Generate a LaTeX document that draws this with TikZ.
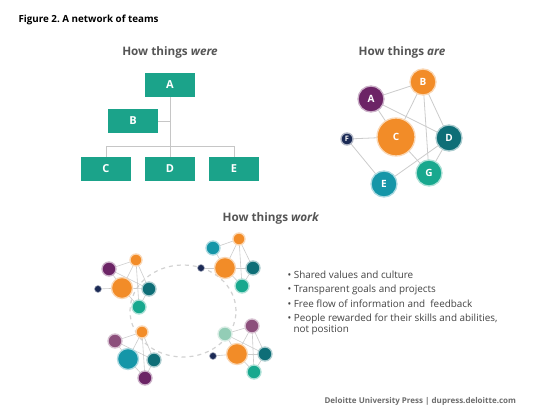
\documentclass[tikz,border=0pt]{standalone}
\usepackage{fontspec}
\setmainfont{Open Sans}
\usetikzlibrary{backgrounds,shapes.geometric}
\frenchspacing
\definecolor{boxteal}{HTML}{1BA38A}
\definecolor{corange}{HTML}{F28C28}
\definecolor{cpurple}{HTML}{6C2466}
\definecolor{cdteal}{HTML}{0E6E77}
\definecolor{cteal}{HTML}{1596A8}
\definecolor{cnavy}{HTML}{1B2A55}
\definecolor{cgreen}{HTML}{18A88E}
\definecolor{cmpurple}{HTML}{8C4F7C}
\definecolor{clgreen}{HTML}{93CDB6}
\definecolor{headgray}{HTML}{555555}
\definecolor{txtgray}{HTML}{444444}
\tikzset{
  orgbox/.style={rectangle, fill=boxteal, minimum width=50pt, minimum height=24pt, inner sep=0pt, text=white, font=\fontsize{11}{12}\selectfont\bfseries},
  orgline/.style={draw=gray!45, line width=0.8pt},
  bub/.style={circle, inner sep=0pt, fill=#1, draw=#1!35!white, line width=1.3pt, text=white, font=\fontsize{10}{10}\selectfont\bfseries},
  netline/.style={draw=gray!40, line width=0.8pt},
  thinline/.style={draw=gray!40, line width=0.6pt},
  heading/.style={text=headgray, font=\fontsize{11.7}{13}\selectfont\bfseries},
  bullet/.style={text=txtgray, anchor=west, font=\fontsize{9.9}{11}\selectfont}
}
\begin{document}
\begin{tikzpicture}[x=1pt,y=-1pt]
\begin{scope}[on background layer]
\fill[white] (0,0) rectangle (553,419);
\end{scope}
\useasboundingbox (0,0) rectangle (553,419);
% title
\node[anchor=west, text=black, font=\fontsize{9.8}{11}\selectfont\bfseries] (title) at (15,20) {Figure 2. A network of teams};
% ---- How things were
\node[heading] (hwere) at (170,52) {How things \textit{were}};
\node[orgbox] (A) at (170,85) {A};
\node[orgbox] (B) at (133,121) {B};
\node[orgbox] (C) at (106,169) {C};
\node[orgbox] (D) at (170,169) {D};
\node[orgbox] (E) at (234,169) {E};
\coordinate (jb) at (170,121);
\coordinate (jl) at (106,146);
\coordinate (jr) at (234,146);
\draw[orgline] (A.south) -- (D.north);
\draw[orgline] (B.east) -- (jb);
\draw[orgline] (C.north) -- (jl) -- (jr) -- (E.north);
% ---- How things are
\node[heading] (hare) at (402,52) {How things \textit{are}};
\node[bub=corange, minimum size=26pt] (nB) at (423,82) {B};
\node[bub=cpurple, minimum size=26pt] (nA) at (371,99) {A};
\node[bub=corange, minimum size=38pt] (nC) at (396,137) {C};
\node[bub=cdteal, minimum size=26pt] (nD) at (449,138) {D};
\node[bub=cnavy, minimum size=12pt, font=\fontsize{7.5}{8}\selectfont\bfseries] (nF) at (347,139) {F};
\node[bub=cteal, minimum size=26pt] (nE) at (384,184) {E};
\node[bub=cgreen, minimum size=26pt] (nG) at (429,173) {G};
\begin{scope}[on background layer]
\foreach \a/\b in {nA/nB,nA/nC,nA/nD,nB/nC,nB/nG,nB/nD,nF/nC,nF/nE,nC/nG,nE/nD,nD/nG}
  \draw[netline] (\a.center) -- (\b.center);
\end{scope}
% ---- How things work
\node[heading] (hwork) at (271,218) {How things \textit{work}};
\begin{scope}[on background layer]
\node[draw=gray!35, dash pattern=on 4pt off 4pt, line width=1.2pt, ellipse, minimum width=106pt, minimum height=92pt] (ring) at (183,311) {};
\end{scope}
% cluster 1
\node[bub=corange, minimum size=12pt] (o1) at (136,260) {};
\node[bub=cpurple, minimum size=14pt] (p1) at (109,269) {};
\node[bub=corange, minimum size=21pt] (O1) at (122,288) {};
\node[bub=cnavy, minimum size=7pt, line width=0.6pt] (n1) at (98,289) {};
\node[bub=cdteal, minimum size=14pt] (t1) at (149,289) {};
\node[bub=cgreen, minimum size=14pt] (g1) at (139,307) {};
% cluster 2
\node[bub=corange, minimum size=12pt] (o2) at (239,239) {};
\node[bub=cteal, minimum size=14pt] (e2) at (213,248) {};
\node[bub=corange, minimum size=21pt] (O2) at (225,268) {};
\node[bub=cnavy, minimum size=7pt, line width=0.6pt] (n2) at (201,268) {};
\node[bub=cdteal, minimum size=14pt] (t2) at (253,268) {};
\node[bub=cgreen, minimum size=14pt] (g2) at (242,286) {};
% cluster 3
\node[bub=corange, minimum size=12pt] (o3) at (142,332) {};
\node[bub=cmpurple, minimum size=14pt] (p3) at (115,341) {};
\node[bub=cteal, minimum size=21pt] (T3) at (128,359) {};
\node[bub=cdteal, minimum size=14pt] (t3) at (154,360) {};
\node[bub=cpurple, minimum size=14pt] (q3) at (145,378) {};
% cluster 4
\node[bub=cmpurple, minimum size=14pt] (p4) at (252,326) {};
\node[bub=clgreen, minimum size=14pt] (l4) at (225,334) {};
\node[bub=corange, minimum size=21pt] (O4) at (237,354) {};
\node[bub=cnavy, minimum size=7pt, line width=0.6pt] (n4) at (213,356) {};
\node[bub=cdteal, minimum size=14pt] (t4) at (265,354) {};
\node[bub=cgreen, minimum size=14pt] (g4) at (254,372) {};
\begin{scope}[on background layer]
\foreach \a/\b in {n1/O1,p1/o1,p1/O1,o1/O1,o1/t1,o1/g1,O1/t1,O1/g1,t1/g1,p1/t1,
                   e2/o2,o2/O2,o2/t2,o2/g2,n2/O2,O2/t2,O2/g2,t2/g2,e2/O2,
                   p3/o3,o3/T3,o3/t3,o3/q3,p3/t3,T3/q3,t3/q3,p3/T3,
                   l4/p4,p4/O4,p4/t4,p4/g4,n4/O4,l4/O4,O4/t4,O4/g4,t4/g4,l4/t4}
  \draw[thinline] (\a.center) -- (\b.center);
\end{scope}
% bullets
\node[bullet] (b1) at (284,275) {• Shared values and culture};
\node[bullet] (b2) at (284,290) {• Transparent goals and projects};
\node[bullet] (b3) at (284,304) {• Free flow of information and\ \ feedback};
\node[bullet] (b4) at (284,319) {• People rewarded for their skills and abilities,};
\node[bullet] (b5) at (290,330) {not position};
% footer
\node[anchor=west, text=gray!85!black, font=\fontsize{8}{9}\selectfont\bfseries] (foot) at (321,401) {Deloitte University Press \textbar\ dupress.deloitte.com};
\end{tikzpicture}
\end{document}
